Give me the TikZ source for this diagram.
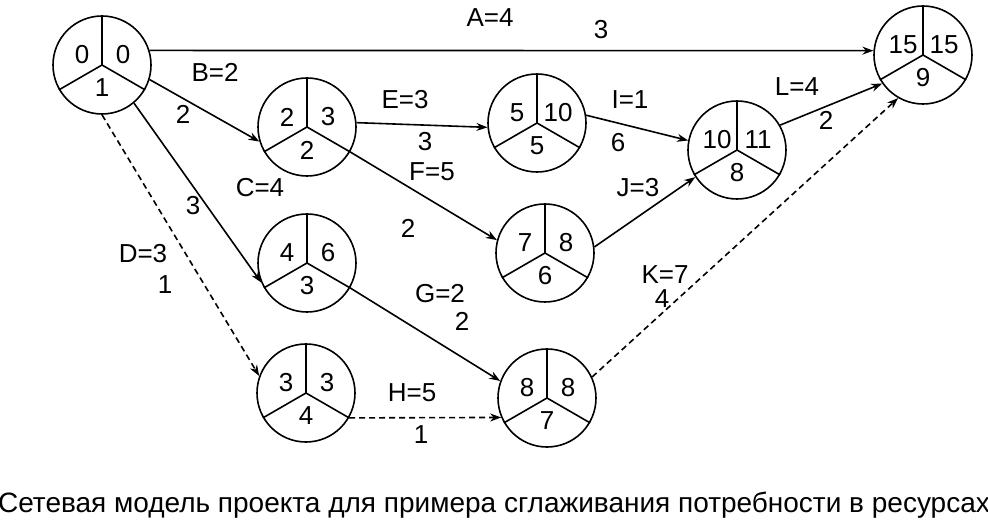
\documentclass[tikz,border=0pt]{standalone}
\usepackage{fontspec}
\setmainfont{Liberation Sans}
\usetikzlibrary{arrows.meta}
\tikzset{ev/.style={circle,draw,line width=1.6pt,minimum size=98pt,inner sep=0pt},
 arr/.style={line width=1.6pt,-{Stealth[length=11pt,width=8pt]}},
 dsh/.style={dash pattern=on 6pt off 4pt},
 lbl/.style={font=\fontsize{26}{26}\selectfont}}
\newcommand{\evnode}[6]{%
 \node[ev] (#1) at (#2,#3) {};
 \draw[line width=1.6pt] (#1.north) -- (#1.center) -- (#1.210) (#1.center) -- (#1.330);
 \node[lbl] (#1a) at ([xshift=-20pt,yshift=10pt]#1.center) {#4};
 \node[lbl] (#1b) at ([xshift=21pt,yshift=10pt]#1.center) {#5};
 \node[lbl] (#1c) at ([yshift=-23pt]#1.center) {#6};}
\begin{document}
\begin{tikzpicture}[x=1pt,y=-1pt]
\path[use as bounding box] (0,0) rectangle (988,526);
\evnode{n1}{102}{65}{0}{0}{1}
\evnode{n2}{307}{127}{2}{3}{2}
\evnode{n3}{537}{123}{5}{10}{5}
\evnode{n4}{737}{150}{10}{11}{8}
\evnode{n5}{923}{55}{15}{15}{9}
\evnode{n6}{545}{253}{7}{8}{6}
\evnode{n7}{307}{263}{4}{6}{3}
\evnode{n8}{306}{393}{3}{3}{4}
\evnode{n9}{547}{398}{8}{8}{7}
\draw[arr] (n1.17) -- (n5.175);
\draw[arr] (n1.-17) -- (n2.197);
\draw[arr] (n1.-50) -- (n7.203);
\draw[arr,dsh] (n1.270) -- (n8.160);
\draw[arr] (n2.5) -- (n3.185);
\draw[arr] (n2.330) -- (n6.165);
\draw[arr] (n3.9) -- (n4.169);
\draw[arr] (n6.7) -- (n4.213);
\draw[arr] (n4.30) -- (n5.215);
\draw[arr] (n7.330) -- (n9.160);
\draw[arr,dsh] (n8.330) -- (n9.203);
\draw[arr,dsh] (n9.25) -- (n5.240);
\node[lbl] (la1) at (490,18) {A=4};
\node[lbl] (la2) at (601,30) {3};
\node[lbl] (lb1) at (215,72) {B=2};
\node[lbl] (lb2) at (183,114) {2};
\node[lbl] (le1) at (405,100) {E=3};
\node[lbl] (le2) at (425,142) {3};
\node[lbl] (li1) at (630,100) {I=1};
\node[lbl] (li2) at (618,143) {6};
\node[lbl] (ll1) at (797,87) {L=4};
\node[lbl] (ll2) at (826,120) {2};
\node[lbl] (lf1) at (432,172) {F=5};
\node[lbl] (lf2) at (408,228) {2};
\node[lbl] (lc1) at (260,188) {C=4};
\node[lbl] (lc2) at (193,206) {3};
\node[lbl] (lj1) at (638,188) {J=3};
\node[lbl] (ld1) at (143,254) {D=3};
\node[lbl] (ld2) at (165,285) {1};
\node[lbl] (lg1) at (440,294) {G=2};
\node[lbl] (lg2) at (462,321) {2};
\node[lbl] (lk1) at (665,275) {K=7};
\node[lbl] (lk2) at (662,299) {4};
\node[lbl] (lh1) at (412,393) {H=5};
\node[lbl] (lh2) at (421,435) {1};
\node[font=\fontsize{28}{28}\selectfont] (cap) at (494,505) {Сетевая модель проекта для примера сглаживания потребности в ресурсах};
\end{tikzpicture}
\end{document}
